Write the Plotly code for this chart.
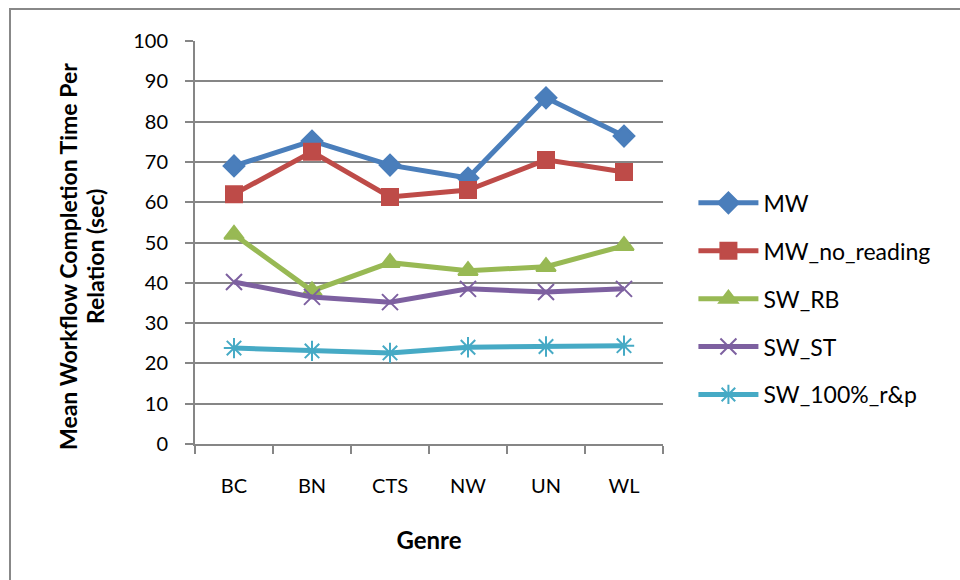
import plotly.graph_objects as go

genres = ["BC", "BN", "CTS", "NW", "UN", "WL"]
mw = [69.0, 75.2, 69.2, 66.0, 85.9, 76.4]
mw_no_reading = [62.0, 72.5, 61.3, 63.0, 70.5, 67.5]
sw_rb = [52.0, 38.0, 45.0, 43.0, 44.0, 49.2]
sw_st = [40.2, 36.5, 35.2, 38.5, 37.7, 38.5]
sw_100_rp = [23.8, 23.1, 22.6, 24.0, 24.2, 24.4]

y_title_lines = ["Mean Workflow Completion Time Per", "Relation (sec)"]

series = [
    ("MW", mw, "#4A7EBB", "diamond", 16),
    ("MW_no_reading", mw_no_reading, "#BE4B48", "square", 16),
    ("SW_RB", sw_rb, "#98B954", "triangle-up", 17),
    ("SW_ST", sw_st, "#7D60A0", "x-thin-open", 16),
    ("SW_100%_r&p", sw_100_rp, "#46AAC5", "asterisk-open", 17),
]

FONT = "Lato, 'Open Sans', sans-serif"

fig = go.Figure()
for i, (name, vals, color, sym, size) in enumerate(series):
    fig.add_trace(go.Scatter(
        x=genres, y=vals, name=name, mode="lines+markers",
        legendgroup=f"g{i}",
        line=dict(color=color, width=5),
        marker=dict(symbol=sym, size=size, color=color,
                    line=dict(color=color, width=2)),
    ))

W, H = 960, 580
L, R, T, B = 195, 297, 41, 136
pw, ph = W - L - R, H - T - B

fig.update_layout(
    width=W, height=H,
    margin=dict(l=L, r=R, t=T, b=B),
    paper_bgcolor="white", plot_bgcolor="white",
    font=dict(family=FONT, size=20, color="#000000"),
    showlegend=True,
    legend=dict(
        x=1.065, y=0.36, xanchor="left", yanchor="middle",
        font=dict(size=23), traceorder="grouped", tracegroupgap=15,
        itemwidth=60,
    ),
    xaxis=dict(
        type="category", range=[-0.5, 5.5],
        tickson="boundaries", ticks="outside", ticklen=8,
        tickcolor="#868686", tickwidth=2,
        showline=True, linecolor="#868686", linewidth=2,
        showgrid=False, zeroline=False,
        tickfont=dict(size=20), ticklabelstandoff=23,
        title=dict(text="<b>Genre</b>", font=dict(size=24), standoff=36),
    ),
    yaxis=dict(
        range=[0, 100], dtick=10, tick0=0,
        ticks="outside", ticklen=8, tickcolor="#868686", tickwidth=2,
        showline=True, linecolor="#868686", linewidth=2,
        showgrid=True, gridcolor="#868686", gridwidth=2,
        zeroline=False, tickfont=dict(size=20), ticklabelstandoff=13,
    ),
)

# two-line rotated y-axis title
for px_x, line in zip([68, 95], y_title_lines):
    fig.add_annotation(
        text=f"<b>{line}</b>", textangle=-90, showarrow=False,
        xref="paper", yref="paper",
        x=(px_x - L) / pw, y=(H - B - 257) / ph,
        xanchor="center", yanchor="middle",
        font=dict(size=23, family=FONT),
    )

# outer chart frame
fig.add_shape(
    type="rect", xref="paper", yref="paper",
    x0=(10 - L) / pw, x1=(975 - L) / pw,
    y0=(H - B - 600) / ph, y1=(H - B - 9) / ph,
    line=dict(color="#888888", width=2), fillcolor="rgba(0,0,0,0)",
    layer="below",
)

fig.write_html("out.html")
